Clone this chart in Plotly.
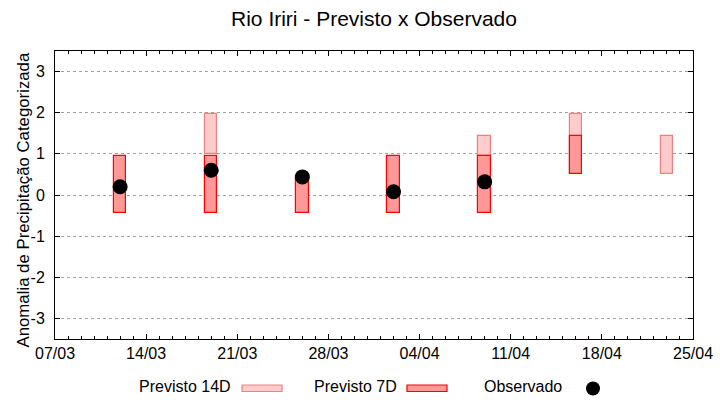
import plotly.graph_objects as go

# ---- data ----
dates_7d = ["2024-03-12", "2024-03-19", "2024-03-26", "2024-04-02", "2024-04-09", "2024-04-16"]
low_7d = [-0.44, -0.44, -0.44, -0.44, -0.44, 0.52]
high_7d = [0.95, 0.95, 0.45, 0.95, 0.95, 1.44]

dates_14d = ["2024-03-19", "2024-04-09", "2024-04-16", "2024-04-23"]
low_14d = [1.0, 0.95, 0.52, 0.52]
high_14d = [1.96, 1.44, 1.96, 1.44]

dates_obs = ["2024-03-12", "2024-03-19", "2024-03-26", "2024-04-02", "2024-04-09"]
obs = [0.20, 0.60, 0.44, 0.08, 0.32]

y_tickvals = [-3, -2, -1, 0, 1, 2, 3]
y_ticktext = ["-3", "-2", "-1", "0", "1", "2", "3"]

legend_labels = ["Previsto 14D", "Previsto 7D", "Observado"]
title_text = "Rio Iriri - Previsto x Observado"
y_title = "Anomalia de Precipitação Categorizada"

DAY = 86400000
FONT = "Liberation Sans, Arial, sans-serif"
C14_FILL, C14_LINE = "#ffcccc", "#f08080"
C7_FILL, C7_LINE = "#ff9999", "#ff0000"

fig = go.Figure()
fig.add_trace(go.Bar(
    x=dates_14d, base=low_14d, y=[h - l for h, l in zip(high_14d, low_14d)],
    width=[0.95 * DAY] * len(dates_14d),
    marker=dict(color=C14_FILL, line=dict(color=C14_LINE, width=1.2)),
    opacity=1, name=legend_labels[0], showlegend=False))
fig.add_trace(go.Bar(
    x=dates_7d, base=low_7d, y=[h - l for h, l in zip(high_7d, low_7d)],
    width=[0.95 * DAY] * len(dates_7d),
    marker=dict(color=C7_FILL, line=dict(color=C7_LINE, width=1.2)),
    opacity=1, name=legend_labels[1], showlegend=False))
fig.add_trace(go.Scatter(
    x=dates_obs, y=obs, mode="markers",
    marker=dict(color="black", size=15),
    name=legend_labels[2], showlegend=False))

# ---- layout helpers (pixel -> paper) ----
L, R, T, B = 55, 27, 51, 61
PW, PH = 720 - L - R, 400 - T - B
def px(x):
    return (x - L) / PW
def py(y):
    return (400 - B - y) / PH

# y-axis title
fig.add_annotation(x=px(23), y=py(200.5), xref="paper", yref="paper",
                   text=y_title, textangle=-90, showarrow=False,
                   xanchor="center", yanchor="middle",
                   font=dict(family=FONT, size=16.8, color="black"))

# legend (text then swatch, like the original)
text_right = [233, 399, 564]
for lab, xr in zip(legend_labels, text_right):
    fig.add_annotation(x=px(xr), y=py(386), xref="paper", yref="paper",
                       text=lab, showarrow=False, xanchor="right", yanchor="middle",
                       font=dict(family=FONT, size=16, color="black"))
fig.add_shape(type="rect", xref="paper", yref="paper",
              x0=px(242), x1=px(282), y0=py(385), y1=py(391.5),
              fillcolor=C14_FILL, line=dict(color=C14_LINE, width=1.2))
fig.add_shape(type="rect", xref="paper", yref="paper",
              x0=px(407), x1=px(447), y0=py(385), y1=py(391.5),
              fillcolor=C7_FILL, line=dict(color=C7_LINE, width=1.2))
fig.add_shape(type="circle", xref="paper", yref="paper",
              x0=px(586), x1=px(600), y0=py(381.5), y1=py(395.5),
              fillcolor="black", line=dict(color="black", width=0))

fig.update_layout(
    width=720, height=400,
    margin=dict(l=L, r=R, t=T, b=B),
    paper_bgcolor="white", plot_bgcolor="white",
    barmode="overlay", bargap=0,
    font=dict(family=FONT, size=16, color="black"),
    title=dict(text=title_text, x=(L + PW / 2) / 720, xanchor="center",
               y=1 - 19 / 400, yanchor="middle",
               font=dict(family=FONT, size=21, color="black")),
    showlegend=False,
)
fig.update_xaxes(
    type="date", range=["2024-03-07", "2024-04-25"],
    tick0="2024-03-07", dtick=7 * DAY, tickformat="%d/%m",
    ticks="inside", ticklen=5, tickcolor="black", tickwidth=1,
    minor=dict(dtick=DAY, ticks="inside", ticklen=3, tickcolor="black", tickwidth=1, showgrid=False),
    showline=True, linecolor="black", linewidth=1, mirror="allticks",
    showgrid=False, zeroline=False,
    tickfont=dict(family=FONT, size=16, color="black"),
    automargin=False,
)
fig.update_yaxes(
    range=[-3.5, 3.5], tickmode="array", tickvals=y_tickvals, ticktext=y_ticktext,
    ticks="inside", ticklen=5, tickcolor="black", tickwidth=1,
    showline=True, linecolor="black", linewidth=1, mirror="allticks",
    showgrid=True, gridcolor="#a0a0a0", griddash="dot", gridwidth=1,
    zeroline=False, ticklabelstandoff=6,
    tickfont=dict(family=FONT, size=16, color="black"),
    automargin=False,
)

fig.write_html("out.html", config={"displayModeBar": False},
               post_script="document.body.style.margin='0px';")
